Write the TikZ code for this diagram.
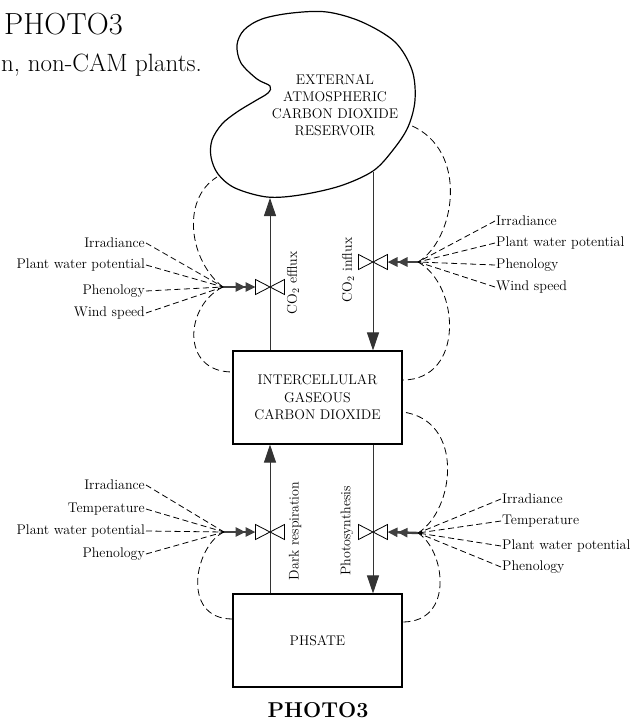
\documentclass[tikz,border=0pt]{standalone}
\usetikzlibrary{arrows.meta}
\tikzset{
  box/.style={draw,line width=1.1pt,minimum width=169pt,minimum height=93pt,align=center,font=\fontsize{14}{17.5}\selectfont},
  flow/.style={line width=.9pt,black!80,-{Triangle[length=18pt,width=12pt]}},
  ctrl/.style={line width=2.4pt,black!75,-{Triangle[length=10pt,width=9pt]Triangle[length=10pt,width=9pt]}},
  info/.style={line width=.8pt,dash pattern=on 6pt off 3.5pt},
  feedback/.style={line width=.8pt,dash pattern=on 7pt off 4pt},
  lab/.style={font=\fontsize{14}{16}\selectfont,inner sep=1pt},
  valve/.pic={\draw[line width=.8pt,fill=white] (-14.5,-7.5) -- (-14.5,7.5) -- (14.5,-7.5) -- (14.5,7.5) -- cycle;}
}
\begin{document}
\begin{tikzpicture}[x=1pt,y=-1pt]
\useasboundingbox (0,0) rectangle (644,720);
% page text
\node[anchor=base west,inner sep=0pt,font=\fontsize{30.5}{32}\selectfont] (title) at (4,34) {PHOTO3};
\node[anchor=base west,inner sep=0pt,font=\fontsize{25}{28}\selectfont] (subt) at (1,71) {n, non-CAM plants.};
\node[anchor=base,inner sep=0pt,font=\bfseries\fontsize{21.5}{23}\selectfont] (cap) at (318,717) {PHOTO3};
% reservoir
\draw[line width=1.2pt] plot[smooth cycle,tension=.55] coordinates {(270,86) (268,93) (255,101) (237,112) (222,124) (212,140) (211,157) (218,174) (235,188) (267,197) (300,195) (340,186) (373,171) (393,150) (408,127) (415,100) (412,70) (395,42) (362,22) (327,12) (292,13) (262,19) (244,30) (237,45) (241,63) (257,79)};
\node[align=center,font=\fontsize{14}{17}\selectfont] (res) at (335,105) {EXTERNAL\\ATMOSPHERIC\\CARBON DIOXIDE\\RESERVOIR};
\coordinate (resE) at (270,198);
\coordinate (resI) at (373,172);
\coordinate (resEa) at (217,177);
\coordinate (resIa) at (410,125);
% boxes
\node[box] (ic) at (317.5,397.5) {INTERCELLULAR\\GASEOUS\\CARBON DIOXIDE};
\node[box] (ph) at (317.5,640.5) {PHSATE};
% valves and junctions
\coordinate (vE) at (270,287);
\coordinate (vI) at (373,262);
\coordinate (vD) at (270,532);
\coordinate (vP) at (373,532);
\coordinate (cE) at (223,287);
\coordinate (cI) at (418,262);
\coordinate (cD) at (224,532);
\coordinate (cP) at (418,533);
% flows
\draw[flow] (ic.north -| vE) -- (resE);
\draw[flow] (resI) -- (ic.north -| vI);
\draw[flow] (ph.north -| vD) -- (ic.south -| vD);
\draw[flow] (ic.south -| vP) -- (ph.north -| vP);
\pic at (vE) {valve};
\pic at (vI) {valve};
\pic at (vD) {valve};
\pic at (vP) {valve};
\node[lab,rotate=90] (lbE) at (293,283) {CO$_2$ efflux};
\node[lab,rotate=90] (lbI) at (348,270) {CO$_2$ influx};
\node[lab,rotate=90] (lbD) at (295,531) {Dark respiration};
\node[lab,rotate=90] (lbP) at (347,531) {Photosynthesis};
% controls
\draw[ctrl] (cE) -- ([xshift=-14.5pt]vE);
\draw[ctrl] (cI) -- ([xshift=14.5pt]vI);
\draw[ctrl] (cD) -- ([xshift=-14.5pt]vD);
\draw[ctrl] (cP) -- ([xshift=14.5pt]vP);
\foreach \t/\y [count=\i] in {Irradiance/243,Plant water potential/265,Phenology/291,Wind speed/313}{
  \node[lab,anchor=east] (lE\i) at (146,\y) {\t};
  \draw[info] (lE\i.east) -- (cE);
}
\foreach \t/\y [count=\i] in {Irradiance/221,Plant water potential/243,Phenology/265,Wind speed/287}{
  \node[lab,anchor=west] (lI\i) at (495,\y) {\t};
  \draw[info] (lI\i.west) -- (cI);
}
\foreach \t/\y [count=\i] in {Irradiance/485,Temperature/509,Plant water potential/531,Phenology/554}{
  \node[lab,anchor=east] (lD\i) at (146,\y) {\t};
  \draw[info] (lD\i.east) -- (cD);
}
\foreach \t/\y [count=\i] in {Irradiance/499,Temperature/521,Plant water potential/546,Phenology/567}{
  \node[lab,anchor=west] (lP\i) at (501,\y) {\t};
  \draw[info] (lP\i.west) -- (cP);
}
% feedback loops
\draw[feedback] (cE) .. controls (190,262) and (180,200) .. (resEa);
\draw[feedback] (cE) .. controls (185,305) and (180,372) .. (ic.west |- 0,372);
\draw[feedback] (cI) .. controls (455,240) and (470,150) .. (resIa);
\draw[feedback] (cI) .. controls (460,285) and (465,380) .. (ic.east |- 0,380);
\draw[feedback] (cP) .. controls (455,510) and (465,420) .. (ic.east |- 0,412);
\draw[feedback] (cP) .. controls (445,550) and (455,622) .. (ph.east |- 0,622);
\draw[feedback] (cD) .. controls (195,545) and (180,619) .. (ph.west |- 0,619);
\end{tikzpicture}
\end{document}
